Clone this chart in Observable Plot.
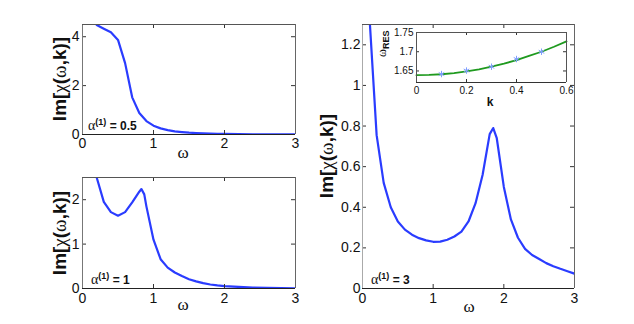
<!DOCTYPE html>
<html>
<head>
<meta charset="utf-8">
<script src="https://cdn.jsdelivr.net/npm/d3@7"></script>
<script src="https://cdn.jsdelivr.net/npm/@observablehq/plot@0.6"></script>
<style>
  body { margin: 0; background: #fff; }
  #chart { position: relative; width: 634px; height: 324px; overflow: hidden; background: #fff;
           font-family: "Liberation Sans", Arial, Helvetica, sans-serif; }
  #chart svg { position: absolute; left: 0; top: 0; }
</style>
</head>
<body>
<div id="chart"></div>
<script>
// ---------- data ----------
// panel A: alpha(1) = 0.5
const omegaA = [0.2, 0.3, 0.4, 0.5, 0.6, 0.7, 0.8, 0.9, 1.0, 1.1, 1.2, 1.3, 1.4, 1.5, 1.6, 1.7, 1.8, 1.9, 2.0, 2.2, 2.4, 2.6, 2.8, 3.0];
const chiA   = [4.48, 4.33, 4.18, 3.87, 2.92, 1.52, 0.88, 0.55, 0.36, 0.25, 0.18, 0.13, 0.10, 0.075, 0.057, 0.044, 0.034, 0.027, 0.022, 0.015, 0.010, 0.007, 0.005, 0.004];
// panel B: alpha(1) = 1
const omegaB = [0.2, 0.3, 0.4, 0.5, 0.6, 0.7, 0.8, 0.83, 0.87, 0.9, 1.0, 1.1, 1.2, 1.3, 1.4, 1.5, 1.6, 1.7, 1.8, 1.9, 2.0, 2.2, 2.4, 2.6, 2.8, 3.0];
const chiB   = [2.5, 1.95, 1.72, 1.64, 1.72, 1.94, 2.18, 2.24, 2.12, 1.85, 1.10, 0.66, 0.47, 0.36, 0.28, 0.21, 0.16, 0.12, 0.09, 0.07, 0.055, 0.035, 0.022, 0.014, 0.009, 0.006];
// panel C: alpha(1) = 3
const omegaC = [0.1, 0.2, 0.3, 0.4, 0.5, 0.6, 0.7, 0.8, 0.9, 1.0, 1.1, 1.2, 1.3, 1.4, 1.5, 1.6, 1.7, 1.8, 1.85, 1.9, 2.0, 2.1, 2.2, 2.3, 2.4, 2.5, 2.6, 2.7, 2.8, 2.9, 3.0];
const chiC   = [1.33, 0.755, 0.52, 0.40, 0.33, 0.29, 0.265, 0.248, 0.237, 0.230, 0.231, 0.240, 0.256, 0.280, 0.330, 0.420, 0.560, 0.760, 0.790, 0.740, 0.500, 0.340, 0.250, 0.195, 0.165, 0.145, 0.125, 0.110, 0.097, 0.085, 0.073];
// inset: resonance frequency vs k
const kFit = [0, 0.05, 0.1, 0.15, 0.2, 0.25, 0.3, 0.35, 0.4, 0.45, 0.5, 0.55, 0.6];
const wFit = [1.639, 1.6396, 1.6414, 1.6445, 1.6488, 1.6543, 1.661, 1.669, 1.678, 1.689, 1.700, 1.713, 1.727];
const kPts = [0.1, 0.2, 0.3, 0.4, 0.5];
const wPts = [1.642, 1.651, 1.661, 1.681, 1.700];
// ticks and labels
const xTicksMain = [0, 1, 2, 3];
const yTicksA = [0, 2, 4];
const yTicksB = [0, 1, 2];
const yTicksC = [0, 0.2, 0.4, 0.6, 0.8, 1, 1.2];
const kTicks = [0, 0.2, 0.4, 0.6];
const wTicks = [1.65, 1.7, 1.75];
const alphaValues = ["0.5", "1", "3"];

// ---------- helpers ----------
const W = 634, H = 324;
const BLUE = "#2a3cff";
const fmt = d => String(d);
const chart = document.getElementById("chart");

function panel(o) {
  const [L, R, T, B] = o.box;
  const fw = R - L, fh = B - T, tl = o.tickLen;
  const marks = [];
  if (o.fill) marks.push(Plot.frame({fill: "white", stroke: "none"}));
  marks.push(...o.marks);
  marks.push(
    Plot.tickX(o.xTicks, {x: d => d, insetTop: fh - tl, stroke: "#333"}),
    Plot.tickX(o.xTicks, {x: d => d, insetBottom: fh - tl, stroke: "#333"}),
    Plot.tickY(o.yTicks, {y: d => d, insetRight: fw - tl, stroke: "#333"}),
    Plot.tickY(o.yTicks, {y: d => d, insetLeft: fw - tl, stroke: "#333"}),
    Plot.ruleX([o.xDomain[0]], {stroke: o.leftColor || "#777"}),
    Plot.ruleX([o.xDomain[1]], {stroke: o.rightColor || "#666"}),
    Plot.ruleY([o.yDomain[1]], {stroke: o.topColor || "#555"}),
    Plot.ruleY([o.yDomain[0]], {stroke: o.bottomColor || "#222"}),
    Plot.axisX({ticks: o.xTicks, anchor: "bottom", tickSize: 0, tickPadding: o.xPad, tickFormat: fmt, label: null}),
    Plot.axisY({ticks: o.yTicks, anchor: "left", tickSize: 0, tickPadding: o.yPad, tickFormat: fmt, label: null})
  );
  const svg = Plot.plot({
    width: W, height: H,
    marginLeft: L, marginRight: W - R, marginTop: T, marginBottom: H - B,
    x: {domain: o.xDomain},
    y: {domain: o.yDomain},
    style: {background: "transparent", fontSize: o.fs + "px", color: "#111",
            fontFamily: '"Liberation Sans", Arial, Helvetica, sans-serif', overflow: "visible"},
    marks
  });
  chart.appendChild(svg);
  return svg;
}

function rich(svg, x, y, parts, {rotate = 0, anchor = "start", size = 12} = {}) {
  const t = d3.select(svg).append("text")
    .attr("transform", `translate(${x},${y}) rotate(${rotate})`)
    .attr("text-anchor", anchor)
    .attr("font-size", size)
    .attr("fill", "#111")
    .attr("font-family", '"Liberation Sans", Arial, sans-serif');
  for (const p of parts) {
    const s = t.append("tspan").text(p.t).attr("font-weight", p.w || 700);
    if (p.f) s.attr("font-family", p.f);
    if (p.s) s.attr("font-size", p.s);
    if (p.dy) s.attr("dy", p.dy);
  }
  return t;
}

const SERIF = '"Liberation Serif", "DejaVu Serif", serif';
const yLabelParts = [
  {t: "Im["}, {t: "χ", w: 400, f: SERIF}, {t: "("}, {t: "ω", w: 400, f: SERIF}, {t: ",k)]"}
];
function alphaParts(v) {
  return [
    {t: "α", w: 400, f: SERIF, s: 14},
    {t: "(1)", s: 9, dy: -5},
    {t: " = " + v, s: 12, dy: 5}
  ];
}

// ---------- panel A ----------
const tableA = omegaA.map((w, i) => ({w, v: chiA[i]}));
const svgA = panel({
  box: [82, 295, 24, 134], xDomain: [0, 3], yDomain: [0, 4.5],
  xTicks: xTicksMain, yTicks: yTicksA, tickLen: 4, xPad: 4, yPad: 3, fs: 14,
  marks: [Plot.line(tableA, {x: "w", y: "v", stroke: BLUE, strokeWidth: 2.2, clip: true})]
});
rich(svgA, 59, 79, yLabelParts, {rotate: -90, anchor: "middle", size: 19}).attr("dy", "0.35em");
rich(svgA, 183, 158, [{t: "ω", w: 400, f: SERIF}], {anchor: "middle", size: 17});
rich(svgA, 88, 130, alphaParts(alphaValues[0]));

// ---------- panel B ----------
const tableB = omegaB.map((w, i) => ({w, v: chiB[i]}));
const svgB = panel({
  box: [82, 295, 177, 288], xDomain: [0, 3], yDomain: [0, 2.5],
  xTicks: xTicksMain, yTicks: yTicksB, tickLen: 4, xPad: 5, yPad: 3, fs: 14,
  marks: [Plot.line(tableB, {x: "w", y: "v", stroke: BLUE, strokeWidth: 2.2, clip: true})]
});
rich(svgB, 59, 233, yLabelParts, {rotate: -90, anchor: "middle", size: 19}).attr("dy", "0.35em");
rich(svgB, 183, 310, [{t: "ω", w: 400, f: SERIF}], {anchor: "middle", size: 17});
rich(svgB, 91, 284, alphaParts(alphaValues[1]));

// ---------- panel C ----------
const tableC = omegaC.map((w, i) => ({w, v: chiC[i]}));
const svgC = panel({
  box: [362, 574, 24, 288], xDomain: [0, 3], yDomain: [0, 1.3],
  xTicks: xTicksMain, yTicks: yTicksC, tickLen: 4, xPad: 5, yPad: 2, fs: 14, leftColor: "#aaa",
  marks: [Plot.line(tableC, {x: "w", y: "v", stroke: BLUE, strokeWidth: 2.2, clip: true})]
});
rich(svgC, 326, 156, yLabelParts, {rotate: -90, anchor: "middle", size: 19}).attr("dy", "0.35em");
rich(svgC, 469, 312, [{t: "ω", w: 400, f: SERIF}], {anchor: "middle", size: 17});
rich(svgC, 371, 284, alphaParts(alphaValues[2]));

// ---------- inset ----------
const tableFit = kFit.map((k, i) => ({k, w: wFit[i]}));
const tablePts = kPts.map((k, i) => ({k, w: wPts[i]}));
const svgI = panel({
  box: [416, 566, 32, 82], xDomain: [0, 0.6], yDomain: [1.62, 1.75],
  xTicks: kTicks, yTicks: wTicks, tickLen: 3, xPad: 4, yPad: 3, fs: 10, fill: true,
  leftColor: "#555", rightColor: "#555", topColor: "#555", bottomColor: "#333",
  marks: [
    Plot.line(tableFit, {x: "k", y: "w", stroke: "#1f9a1f", strokeWidth: 1.8}),
    Plot.dot(tablePts, {x: "k", y: "w", symbol: "asterisk", r: 3, stroke: "#7f9dff", strokeWidth: 1})
  ]
});
rich(svgI, 490, 106, [{t: "k"}], {anchor: "middle", size: 12});
rich(svgI, 386, 57, [{t: "ω", w: 400, f: SERIF, s: 12}, {t: "RES", s: 9, dy: 3}], {rotate: -90, anchor: "start", size: 12});
</script>
</body>
</html>
